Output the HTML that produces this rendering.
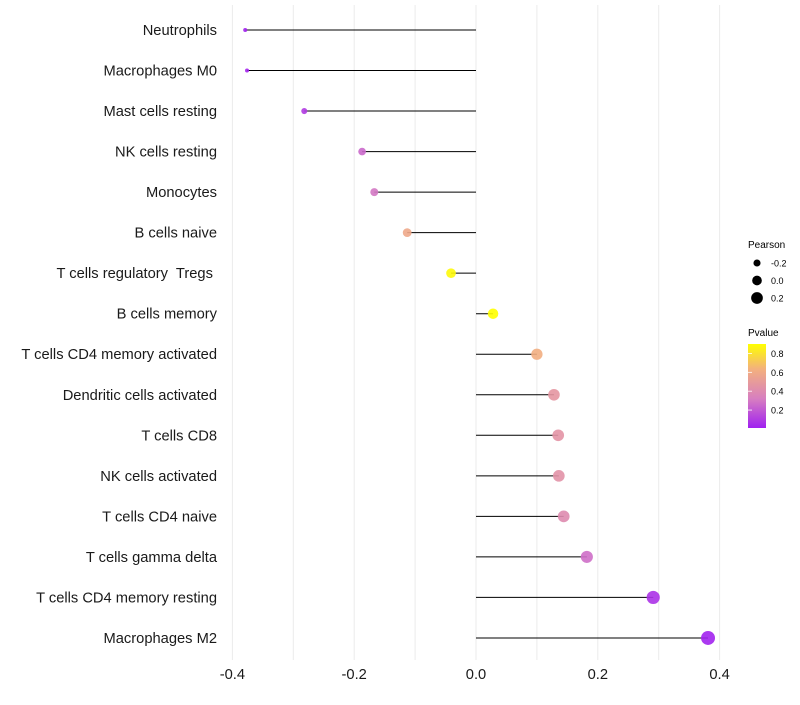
<!DOCTYPE html>
<html><head><meta charset="utf-8"><style>body{margin:0;background:#fff}svg{font-family:"Liberation Sans",sans-serif}</style></head>
<body>
<svg id="c" width="800" height="700" viewBox="0 0 800 700" xmlns="http://www.w3.org/2000/svg">
<defs><linearGradient id="pg" x1="0" y1="1" x2="0" y2="0">
<stop offset="0" stop-color="#a020f0"/><stop offset="0.35" stop-color="#d77fc0"/><stop offset="0.7" stop-color="#f3b07e"/><stop offset="1" stop-color="#ffff00"/></linearGradient></defs>
<g id="grid"></g>
<g id="marks"></g>
<g id="ylab"></g>
<g id="xlab"></g>
<g>
<text x="748" y="248" font-size="10">Pearson</text>
<g id="sizeleg"></g>
</g>
<g>
<text x="748" y="336" font-size="10">Pvalue</text>
<rect x="748" y="344" width="18" height="84" fill="url(#pg)"/>
<g id="colleg"></g>
</g>
</svg>
<script>
const categories=["Neutrophils","Macrophages M0","Mast cells resting","NK cells resting","Monocytes","B cells naive","T cells regulatory  Tregs ","B cells memory","T cells CD4 memory activated","Dendritic cells activated","T cells CD8","NK cells activated","T cells CD4 naive","T cells gamma delta","T cells CD4 memory resting","Macrophages M2"];
const pearson=[-0.379,-0.376,-0.282,-0.187,-0.167,-0.113,-0.041,0.028,0.100,0.128,0.135,0.136,0.144,0.182,0.291,0.381];
const pvalue=[0.02,0.03,0.1,0.25,0.3,0.58,0.88,0.9,0.62,0.47,0.45,0.44,0.4,0.27,0.07,0.02];
const xTicks=[-0.4,-0.2,0.0,0.2,0.4];
const gridTicks=[-0.4,-0.3,-0.2,-0.1,0,0.1,0.2,0.3,0.4];
const sizeLegend=[-0.2,0.0,0.2];
const colorTicks=[0.2,0.4,0.6,0.8];
const NS="http://www.w3.org/2000/svg";
const x=v=>476+v*609;
const y=i=>30+i*40.53;
const r=v=>v<-0.35?2:Math.sqrt(Math.max(1,26+60*v));
const cy=p=>428-(p-0.01)/(0.9-0.01)*84;
const stops=[[0,[160,32,240]],[0.35,[215,127,192]],[0.7,[243,176,126]],[1,[255,255,0]]];
function col(p){let t=Math.max(0,Math.min(1,(p-0.01)/0.89));for(let k=1;k<stops.length;k++){if(t<=stops[k][0]){const a=stops[k-1],b=stops[k],f=(t-a[0])/(b[0]-a[0]);const c=a[1].map((v,j)=>Math.round(v+(b[1][j]-v)*f));return`rgb(${c})`;}}return"rgb(255,255,0)";}
function mk(tag,at,parent){const e=document.createElementNS(NS,tag);for(const k in at)e.setAttribute(k,at[k]);document.getElementById(parent).appendChild(e);return e;}
gridTicks.forEach(t=>{const l=mk("line",{x1:x(t),x2:x(t),y1:5,y2:660,stroke:"#ebebeb","stroke-width":1},"grid");

});
categories.forEach((c,i)=>{
const l=mk("line",{x1:x(0),x2:x(pearson[i]),y1:y(i),y2:y(i),stroke:"#000","stroke-width":1},"marks");


const d=mk("circle",{cx:x(pearson[i]),cy:y(i),r:r(pearson[i]),fill:col(pvalue[i]),"fill-opacity":0.9},"marks");


const t=mk("text",{x:217,y:y(i)+5,"text-anchor":"end","font-size":14.7,fill:"#1a1a1a",style:"white-space:pre"},"ylab");t.textContent=c;

});
xTicks.forEach(v=>{const t=mk("text",{x:x(v),y:679,"text-anchor":"middle","font-size":14.7,fill:"#1a1a1a"},"xlab");t.textContent=v.toFixed(1);

});
sizeLegend.forEach((v,i)=>{const yy=263+i*17.5;const d=mk("circle",{cx:757,cy:yy,r:r(v)*0.95,fill:"#000"},"sizeleg");


const t=mk("text",{x:771,y:yy+3.5,"font-size":9},"sizeleg");t.textContent=v.toFixed(1);

});
colorTicks.forEach(v=>{const t=mk("text",{x:771,y:cy(v)+3.5,"font-size":9},"colleg");t.textContent=v.toFixed(1);


const l=mk("line",{x1:748,x2:752,y1:cy(v),y2:cy(v),stroke:"#fff","stroke-width":0.8},"colleg");

});
</script>
</body></html>
